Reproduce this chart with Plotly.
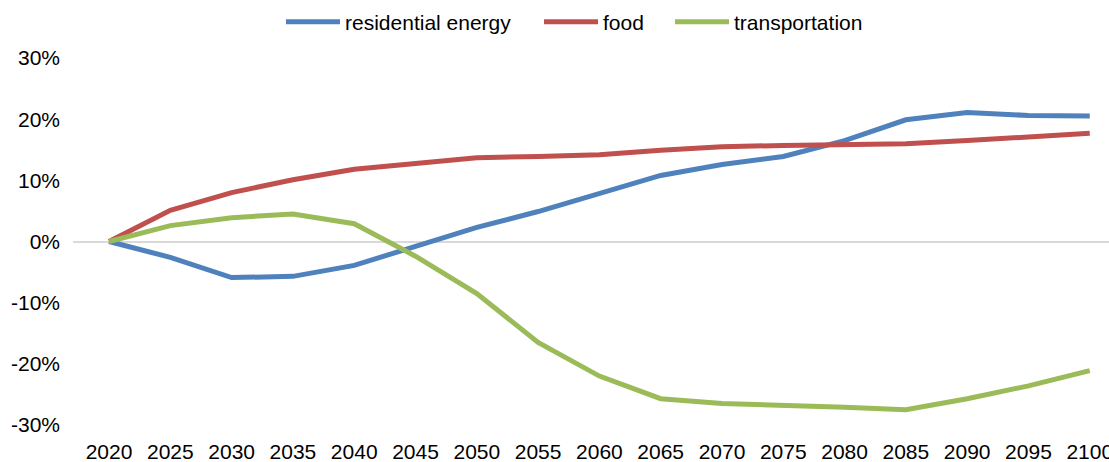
import plotly.graph_objects as go

years = [2020, 2025, 2030, 2035, 2040, 2045, 2050, 2055, 2060, 2065, 2070, 2075, 2080, 2085, 2090, 2095, 2100]
residential_energy = [0, -2.6, -5.9, -5.7, -3.9, -0.8, 2.3, 4.9, 7.8, 10.8, 12.6, 13.9, 16.5, 19.9, 21.1, 20.6, 20.5]
food = [0, 5.1, 8.0, 10.1, 11.8, 12.7, 13.7, 13.9, 14.2, 14.9, 15.5, 15.7, 15.9, 16.0, 16.5, 17.1, 17.7]
transportation = [0, 2.6, 3.9, 4.5, 2.9, -2.4, -8.5, -16.5, -22.0, -25.7, -26.5, -26.7, -27.1, -27.5, -25.7, -23.6, -21.1]
y_ticks = [-30, -20, -10, 0, 10, 20, 30]
y_labels = ["-30%", "-20%", "-10%", "0%", "10%", "20%", "30%"]

series = [
    ("residential energy", residential_energy, "#4f81bd", "legend"),
    ("food", food, "#c0504d", "legend2"),
    ("transportation", transportation, "#9bbb59", "legend3"),
]

fig = go.Figure()
for name, vals, col, leg in series:
    fig.add_trace(go.Scatter(x=years, y=vals, mode="lines", name=name, legend=leg,
                             line=dict(color=col, width=5)))

W, H = 1109, 462
legend_style = dict(orientation="h", xref="container", yref="container",
                    xanchor="left", y=1 - 22 / H, yanchor="middle",
                    font=dict(size=21), itemwidth=54, bgcolor="rgba(0,0,0,0)")

fig.update_layout(
    width=W, height=H,
    margin=dict(l=73, r=0, t=58, b=37, autoexpand=False),
    paper_bgcolor="white", plot_bgcolor="white",
    font=dict(family="Liberation Sans, Arial, sans-serif", size=21, color="#000000"),
    showlegend=True,
    legend=dict(x=(287 - 6) / W, **legend_style),
    legend2=dict(x=(545 - 6) / W, **legend_style),
    legend3=dict(x=(676 - 6) / W, **legend_style),
    xaxis=dict(range=[2017.06, 2101.57], tickvals=years, ticktext=[str(y) for y in years],
               showgrid=False, zeroline=False, showline=False, ticks="", ticklabelstandoff=12,
               ticklabeloverflow="allow"),
    yaxis=dict(range=[-30, 30], tickvals=y_ticks, ticktext=y_labels,
               showgrid=False, zeroline=True, zerolinecolor="#d9d9d9", zerolinewidth=1.5,
               showline=False, ticks="", ticklabelstandoff=12),
)

fig.write_html("out.html", config={"displayModeBar": False},
               post_script="document.body.style.margin='0';document.body.style.overflow='hidden';")
